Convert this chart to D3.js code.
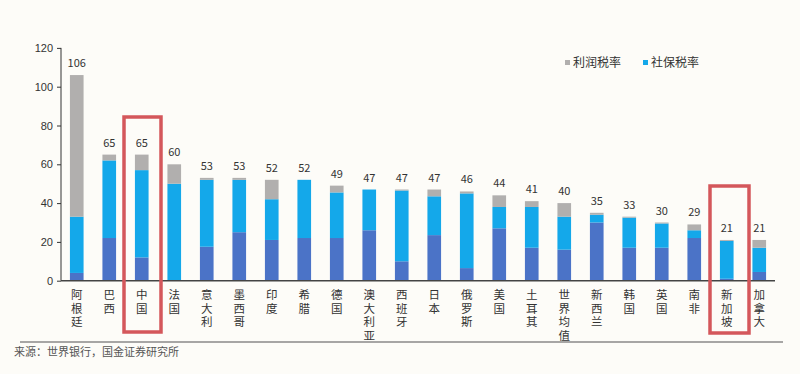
<!DOCTYPE html>
<html>
<head>
<meta charset="utf-8">
<title>总税率构成</title>
<script src="https://cdn.jsdelivr.net/npm/d3@7"></script>
<style>
    body { margin: 0; background: #fdfcf8; }
    svg { display: block; font-family: "Noto Sans CJK SC", "Noto Sans", sans-serif; }
    .axis text { fill: #333; font-size: 11px; }
    .axis path, .axis line { stroke: #333; }
    .cat { writing-mode: vertical-rl; letter-spacing: 2px; }
</style>
</head>
<body>
<script>
// categories and the three stacked parts (%)
var countries = ["阿根廷","巴西","中国","法国","意大利","墨西哥","印度","希腊","德国","澳大利亚","西班牙",
                 "日本","俄罗斯","美国","土耳其","世界均值","新西兰","韩国","英国","南非","新加坡","加拿大"];
var otherRate  = [4, 22, 12, 0, 17.5, 25, 21, 22, 22, 26, 10, 23.5, 6.5, 27, 17, 16, 30, 17, 17, 22, 1, 4.5];
var socialRate = [29, 40, 45, 50, 34.5, 27, 21, 30, 23.5, 21, 36.5, 20, 38.5, 11, 21, 17, 4, 15.5, 12.5, 4, 19.5, 12.5];
var profitRate = [73, 3, 8, 10, 1, 1, 10, 0, 3.5, 0, 0.5, 3.5, 1, 6, 3, 7, 1, 0.5, 0.5, 3, 0.5, 4];
var yTicks = [0, 20, 40, 60, 80, 100, 120];

var W = 800, H = 374;
var svg = d3.select("body").append("svg").attr("width", W).attr("height", H);

var rows = countries.map(function(c, i) {
    return {name: c, other: otherRate[i], social: socialRate[i], profit: profitRate[i]};
});
var stack = d3.stack().keys(["other", "social", "profit"])(rows);
var colors = {other: "#4b73c7", social: "#14a8ea", profit: "#b1afae"};

var x = d3.scaleBand().domain(countries).range([60.5, 775.5]).paddingInner(0.58).paddingOuter(0.29);
var y = d3.scaleLinear().domain([0, 120]).range([280.7, 47.9]);

// bars
svg.selectAll("g.layer").data(stack).enter().append("g")
    .attr("class", "layer")
    .attr("fill", function(d){ return colors[d.key]; })
    .selectAll("rect").data(function(d){ return d; }).enter().append("rect")
    .attr("x", function(d){ return x(d.data.name); })
    .attr("width", x.bandwidth())
    .attr("y", function(d){ return y(d[1]); })
    .attr("height", function(d){ return y(d[0]) - y(d[1]); });

// total labels
svg.selectAll("text.total").data(rows).enter().append("text")
    .attr("class", "total")
    .attr("x", function(d){ return x(d.name) + x.bandwidth() / 2; })
    .attr("y", function(d){ return y(d.other + d.social + d.profit) - 8; })
    .attr("text-anchor", "middle")
    .attr("font-size", 11).attr("fill", "#333")
    .text(function(d){ return Math.round(d.other + d.social + d.profit); });

// y axis
svg.append("g").attr("class", "axis")
    .attr("transform", "translate(61,0)")
    .call(d3.axisLeft(y).tickValues(yTicks).tickSize(4).tickPadding(4))
    .call(function(g){ g.select(".domain").attr("d", "M0," + y(120) + "V" + y(0)); });

// x baseline
svg.append("line").attr("x1", 61).attr("x2", 775).attr("y1", y(0)).attr("y2", y(0))
    .attr("stroke", "#444").attr("stroke-width", 1.5);

// vertical category labels
svg.selectAll("text.cat").data(countries).enter().append("text")
    .attr("class", "cat")
    .attr("x", function(c){ return x(c) + x.bandwidth() / 2; })
    .attr("y", 289)
    .attr("font-size", 11.5).attr("fill", "#333")
    .text(function(c){ return c; });

// red highlight boxes
svg.append("rect").attr("x", 124).attr("y", 117).attr("width", 37).attr("height", 215)
    .attr("fill", "none").attr("stroke", "#d4575b").attr("stroke-width", 3.5);
svg.append("rect").attr("x", 710).attr("y", 186).attr("width", 39).attr("height", 147)
    .attr("fill", "none").attr("stroke", "#d4575b").attr("stroke-width", 3.5);

// legend
var legend = [{label: "利润税率", key: "profit", x: 565}, {label: "社保税率", key: "social", x: 643}];
legend.forEach(function(l) {
    svg.append("rect").attr("x", l.x).attr("y", 60).attr("width", 5).attr("height", 5)
        .attr("fill", colors[l.key]);
    svg.append("text").attr("x", l.x + 8).attr("y", 67).attr("font-size", 12).attr("fill", "#333")
        .text(l.label);
});

// bottom rule and source
svg.append("line").attr("x1", 20).attr("x2", 783).attr("y1", 342).attr("y2", 342)
    .attr("stroke", "#8a8a8a").attr("stroke-width", 1.5);
svg.append("text").attr("x", 14).attr("y", 356).attr("font-size", 11).attr("fill", "#555")
    .text("来源：世界银行，国金证券研究所");
</script>
</body>
</html>
